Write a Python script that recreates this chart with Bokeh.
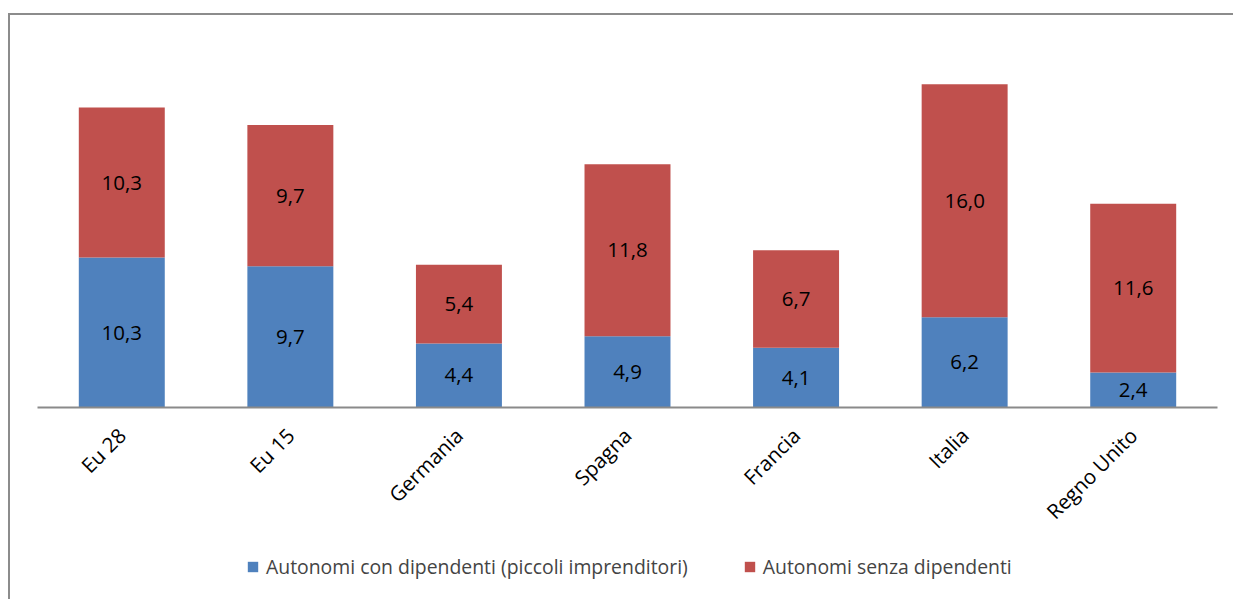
import math
from bokeh.plotting import figure
from bokeh.models import ColumnDataSource, FactorRange, Range1d, Legend, LegendItem, LabelSet, Div, Spacer
from bokeh.layouts import row, column
from bokeh.embed import file_html
from bokeh.resources import INLINE
from bokeh.core.properties import value

categories = ["Eu 28", "Eu 15", "Germania", "Spagna", "Francia", "Italia", "Regno Unito"]
con_dipendenti = [10.3, 9.7, 4.4, 4.9, 4.1, 6.2, 2.4]
senza_dipendenti = [10.3, 9.7, 5.4, 11.8, 6.7, 16.0, 11.6]
series_names = ["Autonomi con dipendenti (piccoli imprenditori)", "Autonomi senza dipendenti"]
colors = ["#4F81BD", "#C0504D"]

FONT = "Open Sans"
BORDER = "#8c8c8c"

def fmt(v):
    return ("%.1f" % v).replace(".", ",")

src = ColumnDataSource(dict(
    cat=categories,
    a=con_dipendenti,
    b=senza_dipendenti,
    a_mid=[v / 2 for v in con_dipendenti],
    b_mid=[a + b / 2 for a, b in zip(con_dipendenti, senza_dipendenti)],
    a_lbl=[fmt(v) for v in con_dipendenti],
    b_lbl=[fmt(v) for v in senza_dipendenti],
))

# ---- main chart ----
p = figure(x_range=FactorRange(*categories), y_range=Range1d(0, 26.92),
           width=1223, height=532, output_backend="svg", toolbar_location=None,
           min_border_left=27, min_border_right=16, min_border_top=0, min_border_bottom=140)

r = p.vbar_stack(["a", "b"], x="cat", width=0.51, source=src, color=colors, line_color=None)

for ycol, tcol in (("a_mid", "a_lbl"), ("b_mid", "b_lbl")):
    p.add_layout(LabelSet(x="cat", y=ycol, text=tcol, source=src, text_align="center",
                          text_baseline="middle", text_font=value(FONT), text_font_size="20.5px",
                          text_color="black"))

p.yaxis.visible = False
p.xgrid.grid_line_color = None
p.ygrid.grid_line_color = None
p.outline_line_color = None
p.xaxis.axis_line_color = "#8a8a8a"
p.xaxis.axis_line_width = 2
p.xaxis.major_tick_line_color = None
p.xaxis.minor_tick_line_color = None
p.xaxis.major_label_orientation = math.pi / 4
p.xaxis.major_label_text_font = FONT
p.xaxis.major_label_text_font_size = "20.5px"
p.xaxis.major_label_text_color = "black"
p.xaxis.major_label_standoff = 18
p.x_range.range_padding = 0
p.x_range.group_padding = 0

# ---- legend strip (swatches only; its renderers are hidden) ----
lg = figure(x_range=FactorRange(*categories), y_range=Range1d(0, 1),
            width=1223, height=52, output_backend="svg", toolbar_location=None,
            x_axis_location=None, y_axis_location=None,
            min_border_left=0, min_border_right=0, min_border_top=0, min_border_bottom=0)
lg.xgrid.grid_line_color = None
lg.ygrid.grid_line_color = None
lg.outline_line_color = None
lr = lg.vbar_stack(["a", "b"], x="cat", width=0.51, source=src, color=colors, line_color=None)
for rr in lr:
    rr.visible = False
legend = Legend(items=[LegendItem(label=series_names[0], renderers=[lr[0]], index=0),
                       LegendItem(label=series_names[1], renderers=[lr[1]], index=0)],
                orientation="horizontal", location=(209, 19), click_policy="none",
                glyph_width=13, glyph_height=13, label_standoff=7, spacing=55,
                padding=0, margin=0, border_line_color=None, background_fill_alpha=0,
                inactive_fill_alpha=0,
                label_text_font=FONT, label_text_font_size="19.4px", label_height=13)
lg.add_layout(legend, "center")

# ---- frame lines (left and top border of the chart area) ----
vline = Div(text="", width=2, height=586, margin=0, styles={"background-color": BORDER})
hline = Div(text="", width=1223, height=2, margin=0, styles={"background-color": BORDER})

layout = column(Spacer(height=13, width=10, margin=0),
                row(Spacer(width=8, height=10, margin=0), vline,
                    column(hline, p, lg, spacing=0), spacing=0),
                spacing=0)

open("out.html", "w").write(file_html(layout, INLINE))
